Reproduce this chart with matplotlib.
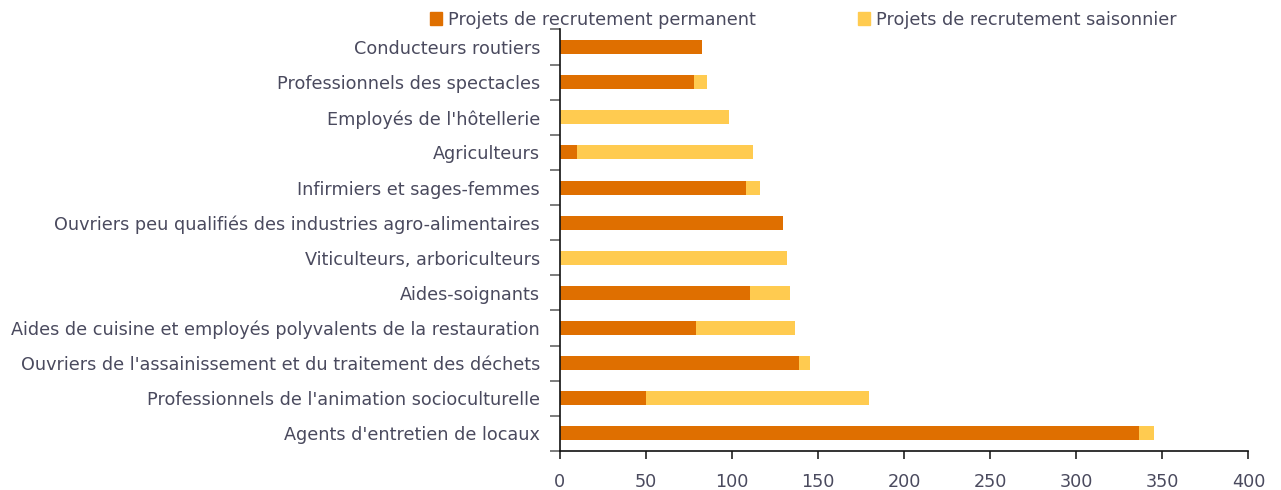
import matplotlib
matplotlib.use("Agg")
import matplotlib.pyplot as plt
from matplotlib.patches import Patch
import numpy as np

categories = [
    "Conducteurs routiers",
    "Professionnels des spectacles",
    "Employés de l'hôtellerie",
    "Agriculteurs",
    "Infirmiers et sages-femmes",
    "Ouvriers peu qualifiés des industries agro-alimentaires",
    "Viticulteurs, arboriculteurs",
    "Aides-soignants",
    "Aides de cuisine et employés polyvalents de la restauration",
    "Ouvriers de l'assainissement et du traitement des déchets",
    "Professionnels de l'animation socioculturelle",
    "Agents d'entretien de locaux",
]
permanent = [82.5, 78, 0, 10, 108, 129.6, 0, 110.6, 79, 139.2, 50.2, 336.4]
saisonnier = [0, 7.5, 98.4, 102.3, 8.4, 0, 131.9, 23.2, 58, 6, 129.3, 8.7]
series_names = ["Projets de recrutement permanent", "Projets de recrutement saisonnier"]
xticks = [0, 50, 100, 150, 200, 250, 300, 350, 400]

c_perm = "#DF6F00"
c_sais = "#FFCB50"
txt = "#4A4A5E"

plt.rcParams['font.family'] = ['DejaVu Sans']

fig = plt.figure(figsize=(12.81, 4.90), dpi=100)
ax = fig.add_axes([0.4368, 0.0796, 0.5378, 0.8602])

y = np.arange(len(categories))
ax.barh(y, permanent, height=0.4, color=c_perm)
ax.barh(y, saisonnier, left=permanent, height=0.4, color=c_sais)

ax.set_ylim(len(categories) - 0.5, -0.5)
ax.set_xlim(0, 400)
ax.set_xticks(xticks)
ax.set_yticks(y)
ax.set_yticklabels(categories)
ax.set_yticks(np.arange(-0.5, len(categories), 1), minor=True)
ax.tick_params(axis='y', which='major', length=0, pad=14, labelsize=12.7, labelcolor=txt)
ax.tick_params(axis='y', which='minor', length=7, width=1.2, color="#666666", direction='out')
ax.tick_params(axis='x', length=6, width=1.2, color="#222222", pad=10, labelsize=12.7, labelcolor=txt)

for s in ['top', 'right']:
    ax.spines[s].set_visible(False)
for s in ['left', 'bottom']:
    ax.spines[s].set_color("#111111")
    ax.spines[s].set_linewidth(1.2)

handles = [Patch(color=c_perm), Patch(color=c_sais)]
fig.legend(handles, series_names, loc='center', bbox_to_anchor=(0.627, 0.96), ncol=2,
           frameon=False, fontsize=12.7, labelcolor=txt, handlelength=0.7, handleheight=0.7,
           handletextpad=0.3, columnspacing=5.8)

fig.savefig("out.png", dpi=100)
